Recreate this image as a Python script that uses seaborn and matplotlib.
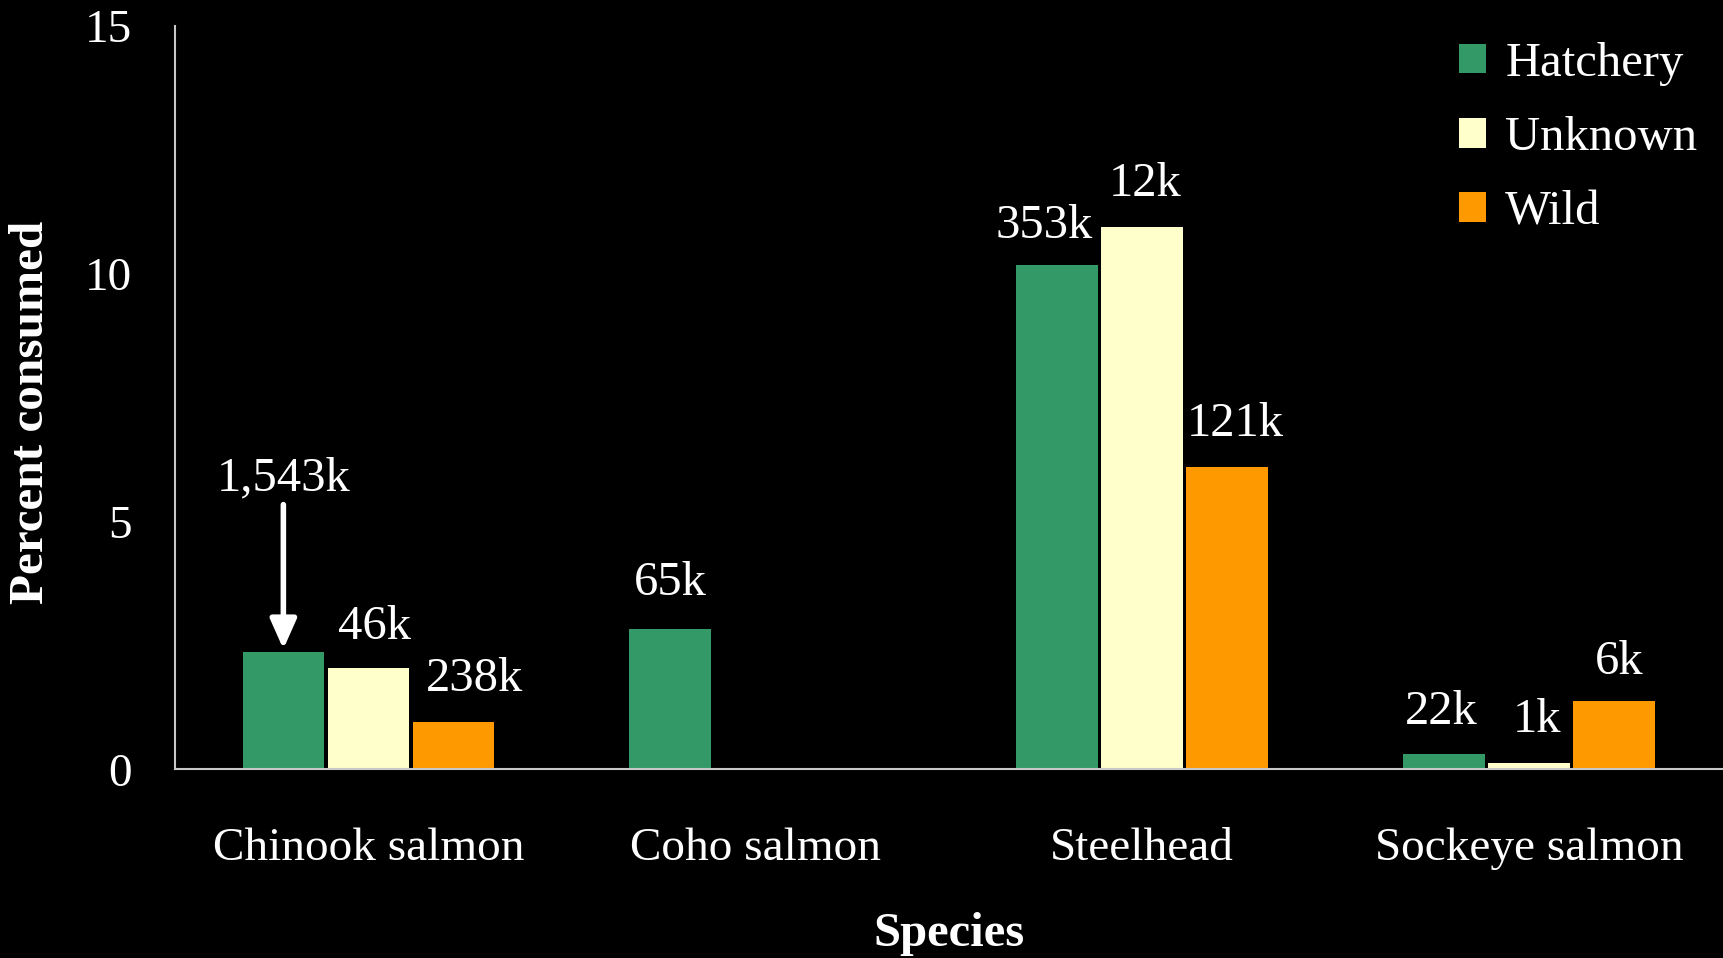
import numpy as np
import pandas as pd
import matplotlib
matplotlib.use("Agg")
import matplotlib.pyplot as plt
import seaborn as sns

species = ["Chinook salmon", "Coho salmon", "Steelhead", "Sockeye salmon"]
origins = ["Hatchery", "Unknown", "Wild"]
hatchery = [2.37, 2.84, 10.18, 0.31]
unknown = [2.04, np.nan, 10.94, 0.13]
wild = [0.95, np.nan, 6.10, 1.38]
hatchery_n = ["1,543k", "65k", "353k", "22k"]
unknown_n = ["46k", "", "12k", "1k"]
wild_n = ["238k", "", "121k", "6k"]
yticks = [0, 5, 10, 15]
colors = {"Hatchery": "#339966", "Unknown": "#FFFFCC", "Wild": "#FF9900"}

# label offsets (points) per origin / species
offsets = {
    "Hatchery": [(0, 125), (0, 33), (-9, 28), (-2, 30)],
    "Unknown": [(4, 30), (0, 0), (2, 31), (6, 31)],
    "Wild": [(15, 31), (0, 0), (6, 31), (4, 28)],
}

values = {"Hatchery": hatchery, "Unknown": unknown, "Wild": wild}
counts = {"Hatchery": hatchery_n, "Unknown": unknown_n, "Wild": wild_n}
rows = []
for o in origins:
    for s, v in zip(species, values[o]):
        rows.append({"Species": s, "Origin": o, "Percent": v})
df = pd.DataFrame(rows)

sns.set_style("dark")
plt.rcParams["font.family"] = ["Liberation Serif", "DejaVu Serif"]
FS = 34
fig = plt.figure(figsize=(17.23, 9.58), dpi=100, facecolor="black")
ax = fig.add_axes([0.1016, 0.197, 0.898, 0.776])
ax.set_facecolor("black")

sns.barplot(data=df, x="Species", y="Percent", hue="Origin", order=species,
            hue_order=origins, palette=colors, width=0.66, gap=0.04,
            saturation=1, errorbar=None, linewidth=0, ax=ax)

ax.set_ylim(0, 15)
ax.set_xlim(-0.5, len(species) - 0.5)
ax.set_yticks(yticks)
ax.set_yticklabels([str(t) for t in yticks])

axis_col = "#c8c8c8"
for side in ["top", "right"]:
    ax.spines[side].set_visible(False)
for side in ["left", "bottom"]:
    ax.spines[side].set_color(axis_col)
    ax.spines[side].set_linewidth(1.5)
ax.grid(False)

ax.tick_params(axis="y", colors=axis_col, labelcolor="white", length=10,
               width=1.5, pad=21, labelsize=FS, direction="out")
ax.tick_params(axis="x", which="major", length=0, pad=42, labelsize=FS,
               labelcolor="white")
ax.set_xticks(np.arange(-0.5, len(species), 1.0), minor=True)
ax.tick_params(axis="x", which="minor", length=10, width=1.5,
               colors=axis_col, direction="out")

ax.set_xlabel("Species", fontsize=FS + 1, fontweight="bold", color="white")
ax.set_ylabel("Percent consumed", fontsize=FS + 1.5, fontweight="bold", color="white")
ax.xaxis.label.set_va("center")
ax.yaxis.label.set_va("center")
ax.xaxis.set_label_coords(0.5, -0.222)
ax.yaxis.set_label_coords(-0.093, 0.48)

# value labels
for o, cont in zip(origins, ax.containers):
    for bar in cont:
        h = bar.get_height()
        if not np.isfinite(h):
            continue
        cx = bar.get_x() + bar.get_width() / 2
        idx = int(round(cx))
        txt = counts[o][idx]
        dx, dy = offsets[o][idx]
        ax.annotate(txt, xy=(cx, h), xytext=(dx, dy), textcoords="offset points",
                    ha="center", va="center", color="white", fontsize=FS + 1)
        if o == "Hatchery" and idx == 0:
            ax.annotate("", xy=(cx, h), xytext=(0, 106), textcoords="offset points",
                        xycoords="data",
                        arrowprops=dict(arrowstyle="-|>,head_width=0.4,head_length=0.9",
                                        color="white", lw=4, mutation_scale=20,
                                        shrinkA=0, shrinkB=2))

leg = ax.legend(loc="upper left", bbox_to_anchor=(1459 / 1723, 1 - 42 / 958),
                bbox_transform=fig.transFigure, frameon=False, fontsize=FS + 1,
                handlelength=0.55, handleheight=0.55, handletextpad=0.4,
                labelspacing=0.62, borderpad=0, borderaxespad=0)
for t in leg.get_texts():
    t.set_color("white")

fig.savefig("out.png", dpi=100, facecolor="black")
